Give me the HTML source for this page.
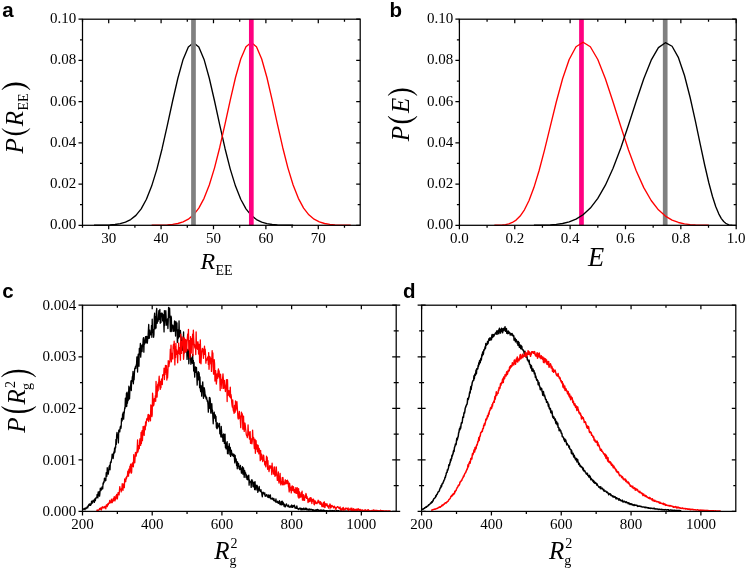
<!DOCTYPE html>
<html><head><meta charset="utf-8"><style>
html,body{margin:0;padding:0;background:#fff;}
body{width:747px;height:570px;overflow:hidden;}
svg{display:block;will-change:transform;}
</style></head><body>
<svg width="747" height="570" viewBox="0 0 747 570">
<rect width="747" height="570" fill="#fff"/>
<polyline points="94.03,225.27 99.27,225.22 104.51,225.12 109.75,224.91 114.99,224.48 120.23,223.66 125.46,222.16 130.70,219.58 135.94,215.35 141.18,208.81 146.42,199.26 151.66,186.11 156.90,169.09 162.14,148.46 167.38,125.20 172.62,101.01 177.86,78.23 183.10,59.44 188.34,47.03 193.58,42.70 198.82,47.03 204.06,59.44 209.30,78.23 214.54,101.01 219.78,125.20 225.02,148.46 230.26,169.09 235.50,186.11 240.74,199.26 245.98,208.81 251.22,215.35 256.46,219.58 261.70,222.16 266.93,223.66 272.17,224.48 277.41,224.91 282.65,225.12 287.89,225.22 293.13,225.27" fill="none" stroke="#000" stroke-width="1.35" stroke-linejoin="round" />
<polyline points="151.66,225.26 156.90,225.21 162.14,225.10 167.38,224.87 172.62,224.40 177.86,223.52 183.10,221.93 188.34,219.22 193.58,214.82 198.82,208.09 204.06,198.34 209.30,185.01 214.54,167.87 219.78,147.22 225.02,124.04 230.26,100.04 235.50,77.51 240.74,58.98 245.98,46.76 251.22,42.49 256.46,46.76 261.70,58.98 266.93,77.51 272.17,100.04 277.41,124.04 282.65,147.22 287.89,167.87 293.13,185.01 298.37,198.34 303.61,208.09 308.85,214.82 314.09,219.22 319.33,221.93 324.57,223.52 329.81,224.40 335.05,224.87 340.29,225.10 345.53,225.21 350.77,225.26" fill="none" stroke="#ff0000" stroke-width="1.35" stroke-linejoin="round" />
<rect x="191.13" y="19.20" width="4.7" height="206.10" fill="#808080"/>
<rect x="248.97" y="19.20" width="4.7" height="206.10" fill="#ff0080"/>
<path d="M108.70,225.30L108.70,229.30M108.70,19.20L108.70,23.20M161.09,225.30L161.09,229.30M161.09,19.20L161.09,23.20M213.49,225.30L213.49,229.30M213.49,19.20L213.49,23.20M265.89,225.30L265.89,229.30M265.89,19.20L265.89,23.20M318.28,225.30L318.28,229.30M318.28,19.20L318.28,23.20M82.50,225.30L82.50,227.80M82.50,19.20L82.50,21.70M134.90,225.30L134.90,227.80M134.90,19.20L134.90,21.70M187.29,225.30L187.29,227.80M187.29,19.20L187.29,21.70M239.69,225.30L239.69,227.80M239.69,19.20L239.69,21.70M292.08,225.30L292.08,227.80M292.08,19.20L292.08,21.70M344.48,225.30L344.48,227.80M344.48,19.20L344.48,21.70M78.50,225.30L82.50,225.30M356.20,225.30L360.20,225.30M78.50,184.08L82.50,184.08M356.20,184.08L360.20,184.08M78.50,142.86L82.50,142.86M356.20,142.86L360.20,142.86M78.50,101.64L82.50,101.64M356.20,101.64L360.20,101.64M78.50,60.42L82.50,60.42M356.20,60.42L360.20,60.42M78.50,19.20L82.50,19.20M356.20,19.20L360.20,19.20M80.00,204.69L82.50,204.69M357.70,204.69L360.20,204.69M80.00,163.47L82.50,163.47M357.70,163.47L360.20,163.47M80.00,122.25L82.50,122.25M357.70,122.25L360.20,122.25M80.00,81.03L82.50,81.03M357.70,81.03L360.20,81.03M80.00,39.81L82.50,39.81M357.70,39.81L360.20,39.81" stroke="#000" stroke-width="1.25" fill="none"/>
<rect x="82.50" y="19.20" width="277.70" height="206.10" fill="none" stroke="#000" stroke-width="1.25"/>
<rect x="579.12" y="19.20" width="4.7" height="206.10" fill="#ff0080"/>
<rect x="662.85" y="19.20" width="4.7" height="206.10" fill="#808080"/>
<polyline points="708.81,225.28 704.73,225.24 700.27,225.15 695.40,224.97 690.14,224.59 684.49,223.85 678.46,222.48 672.09,220.07 665.39,216.07 658.41,209.81 651.19,200.53 643.77,187.61 636.19,170.72 628.51,150.06 620.79,126.58 613.06,102.01 605.38,78.75 597.80,59.49 590.35,46.75 583.08,42.28 576.01,46.75 569.17,59.49 562.59,78.75 556.28,102.01 550.24,126.58 544.50,150.06 539.05,170.72 533.90,187.61 529.03,200.53 524.45,209.81 520.14,216.07 516.10,220.07 512.32,222.48 508.78,223.85 505.48,224.59 502.40,224.97 499.52,225.15 496.84,225.24 494.35,225.28" fill="none" stroke="#ff0000" stroke-width="1.35" stroke-linejoin="round" />
<polyline points="732.29,225.26 731.37,225.19 730.27,225.06 728.97,224.79 727.46,224.26 725.71,223.27 723.69,221.52 721.38,218.56 718.76,213.85 715.80,206.72 712.49,196.53 708.81,182.75 704.73,165.25 700.27,144.38 695.40,121.22 690.14,97.50 684.49,75.50 678.46,57.68 672.09,46.25 665.39,42.72 658.41,47.58 651.19,60.15 643.77,78.80 636.19,101.24 628.51,125.02 620.79,147.91 613.06,168.29 605.38,185.21 597.80,198.39 590.35,208.05 583.08,214.75 576.01,219.14 569.17,221.86 562.59,223.47 556.28,224.37 550.24,224.85 544.50,225.09 539.05,225.21 533.90,225.26" fill="none" stroke="#000" stroke-width="1.35" stroke-linejoin="round" />
<path d="M459.40,225.30L459.40,229.30M459.40,19.20L459.40,23.20M514.76,225.30L514.76,229.30M514.76,19.20L514.76,23.20M570.12,225.30L570.12,229.30M570.12,19.20L570.12,23.20M625.48,225.30L625.48,229.30M625.48,19.20L625.48,23.20M680.84,225.30L680.84,229.30M680.84,19.20L680.84,23.20M736.20,225.30L736.20,229.30M736.20,19.20L736.20,23.20M487.08,225.30L487.08,227.80M487.08,19.20L487.08,21.70M542.44,225.30L542.44,227.80M542.44,19.20L542.44,21.70M597.80,225.30L597.80,227.80M597.80,19.20L597.80,21.70M653.16,225.30L653.16,227.80M653.16,19.20L653.16,21.70M708.52,225.30L708.52,227.80M708.52,19.20L708.52,21.70M455.40,225.30L459.40,225.30M732.20,225.30L736.20,225.30M455.40,184.08L459.40,184.08M732.20,184.08L736.20,184.08M455.40,142.86L459.40,142.86M732.20,142.86L736.20,142.86M455.40,101.64L459.40,101.64M732.20,101.64L736.20,101.64M455.40,60.42L459.40,60.42M732.20,60.42L736.20,60.42M455.40,19.20L459.40,19.20M732.20,19.20L736.20,19.20M456.90,204.69L459.40,204.69M733.70,204.69L736.20,204.69M456.90,163.47L459.40,163.47M733.70,163.47L736.20,163.47M456.90,122.25L459.40,122.25M733.70,122.25L736.20,122.25M456.90,81.03L459.40,81.03M733.70,81.03L736.20,81.03M456.90,39.81L459.40,39.81M733.70,39.81L736.20,39.81" stroke="#000" stroke-width="1.25" fill="none"/>
<rect x="459.40" y="19.20" width="276.80" height="206.10" fill="none" stroke="#000" stroke-width="1.25"/>
<polyline points="82.50,509.77 82.85,509.84 83.20,509.36 83.55,508.81 83.89,508.96 84.24,508.42 84.59,509.02 84.94,509.82 85.29,508.26 85.64,507.97 85.99,508.69 86.33,508.40 86.68,507.99 87.03,506.84 87.38,507.43 87.73,507.90 88.08,505.67 88.43,506.28 88.77,504.51 89.12,504.83 89.47,503.91 89.82,505.37 90.17,503.87 90.52,505.34 90.87,504.88 91.21,504.12 91.56,501.19 91.91,502.93 92.26,503.20 92.61,503.03 92.96,500.33 93.31,501.37 93.65,500.19 94.00,499.97 94.35,502.36 94.70,499.00 95.05,499.73 95.40,500.73 95.75,497.80 96.09,498.05 96.44,497.89 96.79,497.26 97.14,494.36 97.49,496.13 97.84,497.94 98.19,491.82 98.53,495.82 98.88,493.74 99.23,491.55 99.58,496.08 99.93,493.07 100.28,488.22 100.62,490.21 100.97,490.58 101.32,488.14 101.67,489.35 102.02,486.86 102.37,487.78 102.72,488.84 103.06,482.93 103.41,484.23 103.76,481.71 104.11,482.32 104.46,478.04 104.81,478.68 105.16,478.76 105.50,480.77 105.85,480.53 106.20,472.76 106.55,473.22 106.90,476.31 107.25,467.70 107.60,471.09 107.94,471.12 108.29,474.14 108.64,471.40 108.99,467.22 109.34,465.99 109.69,465.26 110.04,469.81 110.38,462.43 110.73,461.68 111.08,462.70 111.43,459.96 111.78,458.53 112.13,454.19 112.48,456.78 112.82,454.06 113.17,458.53 113.52,455.52 113.87,451.86 114.22,453.14 114.57,448.19 114.92,452.11 115.26,446.89 115.61,447.85 115.96,439.39 116.31,444.39 116.66,435.14 117.01,432.39 117.36,437.91 117.70,434.17 118.05,437.13 118.40,442.92 118.75,430.35 119.10,429.84 119.45,431.96 119.80,431.83 120.14,427.62 120.49,426.13 120.84,428.70 121.19,426.55 121.54,418.34 121.89,421.17 122.24,420.31 122.58,414.01 122.93,418.57 123.28,412.07 123.63,419.11 123.98,414.14 124.33,412.27 124.68,407.69 125.02,408.53 125.37,398.16 125.72,400.89 126.07,406.71 126.42,393.20 126.77,406.35 127.12,392.21 127.46,403.22 127.81,393.87 128.16,400.65 128.51,396.04 128.86,386.21 129.21,399.06 129.56,398.75 129.90,389.66 130.25,387.24 130.60,386.50 130.95,380.90 131.30,390.51 131.65,380.52 131.99,381.83 132.34,376.56 132.69,376.15 133.04,371.33 133.39,383.82 133.74,374.88 134.09,379.78 134.43,373.31 134.78,368.16 135.13,368.96 135.48,366.44 135.83,368.41 136.18,365.06 136.53,364.30 136.87,357.00 137.22,359.07 137.57,372.00 137.92,357.53 138.27,354.19 138.62,361.11 138.97,366.24 139.31,348.50 139.66,354.68 140.01,351.13 140.36,343.43 140.71,357.11 141.06,351.61 141.41,351.17 141.75,345.26 142.10,351.49 142.45,344.57 142.80,346.00 143.15,339.24 143.50,337.65 143.85,352.21 144.19,340.13 144.54,344.12 144.89,341.27 145.24,337.93 145.59,336.69 145.94,342.88 146.29,336.34 146.63,336.48 146.98,336.79 147.33,343.22 147.68,339.41 148.03,336.85 148.38,330.23 148.73,324.42 149.07,338.37 149.42,337.84 149.77,330.24 150.12,333.93 150.47,334.85 150.82,334.59 151.17,334.60 151.51,325.31 151.86,337.31 152.21,319.22 152.56,332.15 152.91,329.33 153.26,331.30 153.61,337.29 153.95,334.34 154.30,317.07 154.65,313.17 155.00,328.89 155.35,316.74 155.70,322.85 156.05,328.01 156.39,311.68 156.74,308.37 157.09,323.39 157.44,321.74 157.79,319.62 158.14,321.23 158.49,315.19 158.83,310.76 159.18,319.31 159.53,313.93 159.88,309.42 160.23,323.24 160.58,319.44 160.93,322.39 161.27,313.24 161.62,315.33 161.97,313.06 162.32,313.76 162.67,320.78 163.02,314.42 163.36,321.84 163.71,321.76 164.06,331.95 164.41,310.61 164.76,325.51 165.11,319.25 165.46,319.85 165.80,310.65 166.15,317.21 166.50,325.17 166.85,319.98 167.20,321.22 167.55,319.01 167.90,328.58 168.24,321.19 168.59,307.34 168.94,317.35 169.29,309.37 169.64,308.17 169.99,319.24 170.34,331.55 170.68,323.59 171.03,316.08 171.38,317.92 171.73,331.57 172.08,325.70 172.43,325.38 172.78,325.13 173.12,326.12 173.47,331.44 173.82,330.25 174.17,328.55 174.52,321.00 174.87,331.34 175.22,324.23 175.56,336.00 175.91,321.52 176.26,329.21 176.61,330.55 176.96,322.79 177.31,342.51 177.66,341.40 178.00,329.89 178.35,338.20 178.70,336.32 179.05,320.81 179.40,336.70 179.75,335.37 180.10,336.89 180.44,330.33 180.79,335.98 181.14,337.19 181.49,346.27 181.84,341.67 182.19,340.25 182.54,350.33 182.88,338.26 183.23,339.97 183.58,331.99 183.93,353.29 184.28,350.32 184.63,350.75 184.98,349.97 185.32,347.34 185.67,348.71 186.02,346.66 186.37,347.71 186.72,350.01 187.07,359.46 187.42,354.53 187.76,351.67 188.11,349.38 188.46,349.85 188.81,363.81 189.16,358.16 189.51,356.39 189.86,354.79 190.20,351.17 190.55,358.06 190.90,364.33 191.25,357.83 191.60,359.62 191.95,360.50 192.29,363.24 192.64,354.36 192.99,362.96 193.34,360.30 193.69,371.01 194.04,362.51 194.39,370.97 194.73,377.13 195.08,367.69 195.43,366.96 195.78,372.25 196.13,372.04 196.48,367.44 196.83,376.34 197.17,385.10 197.52,374.15 197.87,375.33 198.22,371.64 198.57,379.93 198.92,372.36 199.27,374.02 199.61,387.72 199.96,376.91 200.31,388.39 200.66,391.61 201.01,385.78 201.36,388.22 201.71,396.17 202.05,386.05 202.40,384.88 202.75,381.83 203.10,389.96 203.45,398.26 203.80,396.45 204.15,387.59 204.49,388.94 204.84,391.62 205.19,396.55 205.54,394.92 205.89,397.91 206.24,399.20 206.59,397.11 206.93,399.28 207.28,401.38 207.63,400.82 207.98,404.58 208.33,412.12 208.68,406.74 209.03,405.00 209.37,397.46 209.72,408.32 210.07,398.00 210.42,401.47 210.77,413.10 211.12,413.24 211.47,410.05 211.81,403.59 212.16,410.73 212.51,410.15 212.86,417.10 213.21,423.75 213.56,416.83 213.91,413.11 214.25,412.18 214.60,418.08 214.95,418.36 215.30,414.82 215.65,421.32 216.00,416.51 216.35,427.36 216.69,427.93 217.04,428.81 217.39,422.79 217.74,427.90 218.09,425.89 218.44,425.58 218.79,426.59 219.13,423.29 219.48,423.49 219.83,433.75 220.18,430.36 220.53,432.84 220.88,436.88 221.23,426.29 221.57,431.00 221.92,435.70 222.27,437.34 222.62,434.95 222.97,441.39 223.32,438.81 223.66,433.85 224.01,435.73 224.36,443.35 224.71,442.71 225.06,434.16 225.41,447.57 225.76,445.35 226.10,448.92 226.45,442.96 226.80,444.00 227.15,441.54 227.50,453.69 227.85,446.53 228.20,453.81 228.54,446.14 228.89,449.82 229.24,443.73 229.59,449.14 229.94,454.78 230.29,447.32 230.64,456.36 230.98,454.35 231.33,450.06 231.68,452.64 232.03,453.42 232.38,455.49 232.73,454.42 233.08,454.04 233.42,456.46 233.77,454.60 234.12,454.33 234.47,459.15 234.82,462.88 235.17,455.38 235.52,461.09 235.86,459.51 236.21,459.02 236.56,465.59 236.91,461.68 237.26,468.77 237.61,461.98 237.96,466.27 238.30,464.86 238.65,463.74 239.00,468.50 239.35,466.71 239.70,469.59 240.05,468.10 240.40,465.43 240.74,468.97 241.09,469.94 241.44,473.18 241.79,468.08 242.14,471.17 242.49,466.70 242.84,474.18 243.18,469.60 243.53,468.00 243.88,473.54 244.23,477.34 244.58,470.30 244.93,472.03 245.28,473.47 245.62,472.86 245.97,477.51 246.32,474.68 246.67,475.37 247.02,479.37 247.37,476.17 247.72,479.80 248.06,476.47 248.41,476.27 248.76,475.06 249.11,485.17 249.46,479.88 249.81,481.74 250.16,481.43 250.50,482.31 250.85,482.42 251.20,487.46 251.55,480.47 251.90,479.58 252.25,481.32 252.60,480.92 252.94,486.37 253.29,486.89 253.64,482.97 253.99,482.31 254.34,485.14 254.69,489.59 255.03,481.53 255.38,488.23 255.73,484.87 256.08,490.05 256.43,485.56 256.78,487.68 257.13,485.28 257.47,486.79 257.82,492.34 258.17,491.39 258.52,489.02 258.87,488.32 259.22,486.44 259.57,489.96 259.91,491.02 260.26,491.20 260.61,491.47 260.96,489.63 261.31,492.09 261.66,492.42 262.01,495.39 262.35,496.80 262.70,493.04 263.05,492.06 263.40,493.71 263.75,492.91 264.10,492.91 264.45,494.49 264.79,492.85 265.14,496.24 265.49,495.14 265.84,496.04 266.19,495.47 266.54,494.70 266.89,494.54 267.23,496.07 267.58,495.74 267.93,497.36 268.28,497.15 268.63,494.98 268.98,497.71 269.33,495.48 269.67,496.95 270.02,497.71 270.37,494.91 270.72,498.77 271.07,499.06 271.42,498.75 271.77,498.50 272.11,498.78 272.46,498.00 272.81,499.33 273.16,499.07 273.51,500.27 273.86,498.42 274.21,500.84 274.55,500.87 274.90,500.60 275.25,500.32 275.60,501.98 275.95,498.83 276.30,502.16 276.65,501.99 276.99,502.20 277.34,502.50 277.69,501.16 278.04,501.88 278.39,503.29 278.74,503.14 279.09,502.97 279.43,500.75 279.78,503.70 280.13,504.69 280.48,504.60 280.83,503.69 281.18,501.46 281.53,504.87 281.87,503.58 282.22,501.07 282.57,504.50 282.92,502.26 283.27,502.64 283.62,503.59 283.97,506.07 284.31,504.16 284.66,505.06 285.01,506.94 285.36,506.85 285.71,504.94 286.06,504.89 286.40,503.82 286.75,504.58 287.10,505.97 287.45,506.04 287.80,505.81 288.15,506.89 288.50,505.03 288.84,505.92 289.19,506.86 289.54,506.79 289.89,507.40 290.24,506.76 290.59,506.11 290.94,506.90 291.28,505.58 291.63,505.02 291.98,507.36 292.33,506.80 292.68,507.24 293.03,505.35 293.38,506.74 293.72,506.59 294.07,506.42 294.42,505.23 294.77,507.08 295.12,508.30 295.47,507.89 295.82,507.05 296.16,507.66 296.51,508.42 296.86,505.85 297.21,507.76 297.56,508.41 297.91,508.59 298.26,509.52 298.60,509.09 298.95,508.44 299.30,508.49 299.65,508.95 300.00,507.91 300.35,508.38 300.70,509.20 301.04,510.03 301.39,508.45 301.74,508.59 302.09,508.83 302.44,509.76 302.79,508.76 303.14,509.93 303.48,508.16 303.83,508.79 304.18,508.83 304.53,509.59 304.88,509.81 305.23,508.03 305.58,508.51 305.92,509.43 306.27,508.78 306.62,508.24 306.97,510.02 307.32,509.69 307.67,509.72 308.02,509.12 308.36,510.14 308.71,509.36 309.06,510.25 309.41,509.01 309.76,509.08 310.11,509.78 310.46,509.26 310.80,510.13 311.15,509.91 311.50,509.24 311.85,509.86 312.20,509.64 312.55,510.41 312.90,509.55 313.24,509.69 313.59,510.65 313.94,511.05 314.29,511.07 314.64,510.09 314.99,510.20 315.34,510.92 315.68,510.06 316.03,509.65 316.38,510.24 316.73,510.44 317.08,509.81 317.43,509.43 317.77,509.56 318.12,510.63 318.47,509.95 318.82,510.28 319.17,510.47 319.52,510.68 319.87,510.25 320.21,510.66 320.56,510.04 320.91,510.30 321.26,510.03 321.61,511.01 321.96,510.51 322.31,510.22 322.65,510.41 323.00,510.48 323.35,510.89 323.70,509.95 324.05,510.20 324.40,510.49 324.75,511.40 325.09,511.06 325.44,510.65 325.79,510.98 326.14,511.40 326.49,510.64 326.84,510.61 327.19,511.22 327.53,510.96 327.88,511.03 328.23,510.62 328.58,511.40 328.93,511.40 329.28,511.04 329.63,511.09 329.97,510.17 330.32,511.09 330.67,510.82 331.02,511.04 331.37,511.13 331.72,510.81 332.07,510.38 332.41,511.06 332.76,510.72 333.11,510.86 333.46,510.78 333.81,510.87 334.16,510.32 334.51,511.36 334.85,511.08 335.20,511.34 335.55,511.40 335.90,511.04 336.25,510.53 336.60,510.80 336.95,510.72 337.29,510.93 337.64,511.09 337.99,510.54 338.34,511.17 338.69,510.70 339.04,511.17 339.39,511.08 339.73,511.03 340.08,511.10 340.43,510.99 340.78,510.98 341.13,510.73 341.48,511.14 341.83,511.40 342.17,511.40 342.52,511.40 342.87,511.33 343.22,511.02 343.57,511.40 343.92,511.17 344.27,511.17 344.61,511.13 344.96,511.22 345.31,511.11 345.66,511.19 346.01,510.99 346.36,511.14 346.71,511.40 347.05,511.21 347.40,511.18 347.75,511.33 348.10,511.37 348.45,511.03 348.80,511.20 349.14,511.40 349.49,511.30 349.84,511.27 350.19,511.40 350.54,511.14 350.89,511.28 351.24,511.18 351.58,511.40 351.93,510.95 352.28,511.16 352.63,511.19 352.98,511.39 353.33,511.38 353.68,511.40 354.02,511.04 354.37,511.40 354.72,511.25 355.07,511.20 355.42,511.38 355.77,511.17 356.12,511.00 356.46,511.25 356.81,511.10 357.16,511.22 357.51,511.36 357.86,511.36 358.21,511.40 358.56,511.29 358.90,511.12 359.25,511.23 359.60,511.21 359.95,511.17 360.30,511.38 360.65,511.25 361.00,511.09 361.34,511.40" fill="none" stroke="#000" stroke-width="1.3" stroke-linejoin="round" />
<polyline points="96.44,510.15 96.79,510.36 97.14,510.13 97.49,510.39 97.84,509.92 98.19,510.65 98.53,510.01 98.88,509.90 99.23,509.82 99.58,508.29 99.93,509.16 100.28,508.96 100.62,509.22 100.97,507.76 101.32,510.22 101.67,508.75 102.02,507.39 102.37,506.74 102.72,507.93 103.06,507.95 103.41,507.14 103.76,507.80 104.11,506.84 104.46,507.94 104.81,506.33 105.16,506.90 105.50,507.88 105.85,508.79 106.20,505.06 106.55,505.49 106.90,504.76 107.25,506.61 107.60,503.80 107.94,504.42 108.29,504.77 108.64,503.14 108.99,502.86 109.34,503.25 109.69,500.49 110.04,501.12 110.38,502.38 110.73,502.94 111.08,502.06 111.43,499.08 111.78,500.89 112.13,502.68 112.48,501.91 112.82,500.41 113.17,498.55 113.52,500.93 113.87,498.27 114.22,496.70 114.57,496.95 114.92,500.94 115.26,498.06 115.61,499.53 115.96,495.70 116.31,498.20 116.66,494.44 117.01,494.89 117.36,498.93 117.70,495.93 118.05,492.53 118.40,492.94 118.75,493.35 119.10,494.92 119.45,490.28 119.80,486.60 120.14,489.59 120.49,489.73 120.84,489.36 121.19,491.88 121.54,488.66 121.89,489.36 122.24,483.56 122.58,488.26 122.93,490.48 123.28,486.70 123.63,484.56 123.98,483.58 124.33,487.64 124.68,478.97 125.02,480.65 125.37,481.63 125.72,481.77 126.07,477.38 126.42,478.93 126.77,476.30 127.12,476.79 127.46,475.18 127.81,471.05 128.16,473.92 128.51,476.10 128.86,469.06 129.21,470.67 129.56,472.95 129.90,466.05 130.25,469.57 130.60,464.27 130.95,471.26 131.30,473.20 131.65,472.37 131.99,463.67 132.34,466.34 132.69,463.11 133.04,462.11 133.39,466.76 133.74,454.72 134.09,463.05 134.43,457.76 134.78,462.63 135.13,456.78 135.48,452.32 135.83,455.22 136.18,456.15 136.53,452.26 136.87,453.17 137.22,447.91 137.57,439.99 137.92,451.99 138.27,450.14 138.62,446.73 138.97,445.36 139.31,448.65 139.66,440.96 140.01,438.78 140.36,440.08 140.71,445.35 141.06,432.46 141.41,443.36 141.75,433.78 142.10,430.53 142.45,440.66 142.80,433.16 143.15,426.31 143.50,429.77 143.85,434.99 144.19,435.25 144.54,426.22 144.89,429.30 145.24,429.79 145.59,421.91 145.94,425.89 146.29,422.87 146.63,419.23 146.98,418.38 147.33,420.20 147.68,418.96 148.03,414.78 148.38,414.44 148.73,421.54 149.07,415.73 149.42,418.28 149.77,418.97 150.12,414.64 150.47,420.75 150.82,404.84 151.17,412.78 151.51,405.53 151.86,416.58 152.21,414.74 152.56,393.25 152.91,397.74 153.26,405.95 153.61,405.67 153.95,404.38 154.30,398.77 154.65,400.80 155.00,400.97 155.35,395.75 155.70,401.23 156.05,381.34 156.39,397.02 156.74,386.21 157.09,397.06 157.44,389.06 157.79,384.16 158.14,390.79 158.49,382.12 158.83,381.17 159.18,376.25 159.53,384.71 159.88,387.01 160.23,389.36 160.58,381.32 160.93,387.80 161.27,380.56 161.62,379.01 161.97,382.32 162.32,384.52 162.67,374.91 163.02,374.70 163.36,374.40 163.71,375.13 164.06,368.08 164.41,379.57 164.76,369.67 165.11,374.43 165.46,365.39 165.80,372.26 166.15,371.74 166.50,365.75 166.85,380.10 167.20,369.46 167.55,377.94 167.90,371.92 168.24,360.62 168.59,361.78 168.94,366.51 169.29,363.39 169.64,362.67 169.99,359.82 170.34,349.08 170.68,358.99 171.03,345.21 171.38,361.79 171.73,353.87 172.08,353.37 172.43,356.14 172.78,358.91 173.12,346.89 173.47,344.21 173.82,348.31 174.17,341.19 174.52,347.98 174.87,364.89 175.22,346.41 175.56,357.60 175.91,343.36 176.26,354.34 176.61,349.69 176.96,351.07 177.31,354.99 177.66,362.78 178.00,351.68 178.35,350.84 178.70,342.93 179.05,353.33 179.40,347.29 179.75,354.43 180.10,348.08 180.44,360.15 180.79,334.07 181.14,345.50 181.49,353.43 181.84,344.63 182.19,341.33 182.54,344.77 182.88,336.81 183.23,347.05 183.58,359.29 183.93,353.86 184.28,337.98 184.63,339.47 184.98,342.61 185.32,352.33 185.67,339.46 186.02,340.27 186.37,351.20 186.72,350.98 187.07,342.25 187.42,336.98 187.76,333.92 188.11,339.84 188.46,329.31 188.81,349.94 189.16,340.28 189.51,348.07 189.86,357.80 190.20,352.96 190.55,336.74 190.90,350.93 191.25,353.01 191.60,339.77 191.95,338.41 192.29,344.40 192.64,334.08 192.99,355.66 193.34,330.15 193.69,337.92 194.04,343.91 194.39,344.36 194.73,347.27 195.08,348.18 195.43,344.98 195.78,354.58 196.13,331.99 196.48,347.08 196.83,342.34 197.17,348.46 197.52,349.31 197.87,341.71 198.22,343.85 198.57,354.04 198.92,351.25 199.27,344.42 199.61,362.52 199.96,362.81 200.31,339.96 200.66,352.42 201.01,363.74 201.36,356.40 201.71,352.87 202.05,350.29 202.40,348.37 202.75,350.99 203.10,349.06 203.45,358.28 203.80,350.88 204.15,350.99 204.49,346.23 204.84,354.47 205.19,349.17 205.54,354.44 205.89,363.13 206.24,359.00 206.59,360.38 206.93,359.83 207.28,358.30 207.63,357.51 207.98,356.78 208.33,364.40 208.68,352.57 209.03,369.24 209.37,361.03 209.72,356.33 210.07,358.57 210.42,357.85 210.77,363.91 211.12,358.65 211.47,371.43 211.81,359.32 212.16,350.56 212.51,360.76 212.86,352.97 213.21,366.40 213.56,374.11 213.91,371.99 214.25,359.69 214.60,364.00 214.95,381.00 215.30,372.15 215.65,370.72 216.00,378.06 216.35,384.05 216.69,380.77 217.04,373.98 217.39,375.95 217.74,378.23 218.09,371.05 218.44,368.86 218.79,376.50 219.13,370.84 219.48,377.04 219.83,378.66 220.18,390.56 220.53,374.03 220.88,379.22 221.23,379.60 221.57,383.97 221.92,388.37 222.27,379.54 222.62,378.18 222.97,373.83 223.32,378.87 223.66,388.46 224.01,386.13 224.36,380.36 224.71,384.93 225.06,388.04 225.41,391.55 225.76,385.63 226.10,388.37 226.45,379.70 226.80,384.37 227.15,401.48 227.50,379.63 227.85,391.25 228.20,395.21 228.54,392.41 228.89,390.56 229.24,395.61 229.59,396.62 229.94,396.86 230.29,387.18 230.64,397.86 230.98,394.48 231.33,396.94 231.68,402.05 232.03,405.09 232.38,407.21 232.73,400.01 233.08,408.71 233.42,410.78 233.77,411.24 234.12,413.31 234.47,405.44 234.82,405.97 235.17,412.17 235.52,400.78 235.86,410.13 236.21,406.77 236.56,408.34 236.91,401.57 237.26,406.89 237.61,412.28 237.96,417.85 238.30,419.05 238.65,414.00 239.00,414.10 239.35,411.38 239.70,418.58 240.05,415.82 240.40,420.98 240.74,427.62 241.09,418.97 241.44,412.04 241.79,416.02 242.14,413.63 242.49,415.66 242.84,429.14 243.18,424.28 243.53,416.07 243.88,427.74 244.23,431.44 244.58,423.94 244.93,423.02 245.28,425.37 245.62,429.11 245.97,431.50 246.32,434.80 246.67,435.57 247.02,436.05 247.37,437.53 247.72,434.74 248.06,424.78 248.41,432.17 248.76,434.93 249.11,432.23 249.46,439.01 249.81,433.60 250.16,431.56 250.50,443.31 250.85,440.26 251.20,438.78 251.55,442.66 251.90,443.88 252.25,441.15 252.60,430.12 252.94,437.71 253.29,439.31 253.64,437.53 253.99,443.46 254.34,448.49 254.69,441.58 255.03,439.28 255.38,453.30 255.73,443.49 256.08,440.65 256.43,447.66 256.78,449.04 257.13,444.71 257.47,451.73 257.82,446.80 258.17,445.50 258.52,450.76 258.87,453.81 259.22,448.43 259.57,453.03 259.91,451.80 260.26,460.62 260.61,450.33 260.96,459.49 261.31,454.11 261.66,454.34 262.01,458.31 262.35,459.51 262.70,461.51 263.05,458.25 263.40,455.06 263.75,455.83 264.10,460.47 264.45,461.25 264.79,464.93 265.14,461.59 265.49,464.56 265.84,466.79 266.19,462.07 266.54,456.25 266.89,457.93 267.23,457.45 267.58,469.33 267.93,460.66 268.28,468.88 268.63,466.93 268.98,471.54 269.33,469.36 269.67,465.76 270.02,465.87 270.37,467.35 270.72,468.12 271.07,466.03 271.42,468.26 271.77,474.50 272.11,463.25 272.46,470.58 272.81,466.94 273.16,471.18 273.51,473.84 273.86,471.17 274.21,474.42 274.55,466.80 274.90,476.34 275.25,470.98 275.60,475.49 275.95,474.42 276.30,466.94 276.65,472.12 276.99,475.72 277.34,480.44 277.69,476.70 278.04,476.98 278.39,472.01 278.74,481.46 279.09,483.00 279.43,477.74 279.78,477.32 280.13,473.33 280.48,481.47 280.83,484.95 281.18,481.65 281.53,483.65 281.87,481.79 282.22,477.53 282.57,484.84 282.92,477.50 283.27,480.89 283.62,482.67 283.97,484.77 284.31,483.72 284.66,483.96 285.01,480.96 285.36,479.78 285.71,483.97 286.06,482.10 286.40,480.74 286.75,481.19 287.10,483.67 287.45,480.21 287.80,481.93 288.15,481.46 288.50,486.73 288.84,487.63 289.19,491.92 289.54,483.10 289.89,485.58 290.24,490.08 290.59,487.38 290.94,487.37 291.28,492.93 291.63,487.90 291.98,486.07 292.33,485.95 292.68,490.42 293.03,490.60 293.38,486.65 293.72,487.89 294.07,491.92 294.42,492.27 294.77,489.53 295.12,492.85 295.47,492.97 295.82,487.55 296.16,491.32 296.51,493.29 296.86,491.19 297.21,487.76 297.56,492.34 297.91,494.96 298.26,497.08 298.60,488.67 298.95,498.20 299.30,491.57 299.65,496.47 300.00,497.29 300.35,496.93 300.70,495.29 301.04,492.63 301.39,496.74 301.74,494.04 302.09,491.06 302.44,500.02 302.79,497.67 303.14,500.19 303.48,494.66 303.83,499.80 304.18,500.22 304.53,500.31 304.88,497.27 305.23,495.06 305.58,497.32 305.92,493.46 306.27,494.65 306.62,498.38 306.97,496.43 307.32,498.22 307.67,498.50 308.02,502.52 308.36,501.52 308.71,499.12 309.06,501.64 309.41,498.07 309.76,499.06 310.11,501.52 310.46,497.72 310.80,499.64 311.15,497.91 311.50,500.66 311.85,503.50 312.20,499.41 312.55,501.28 312.90,499.46 313.24,499.17 313.59,499.18 313.94,503.93 314.29,504.81 314.64,502.53 314.99,500.64 315.34,503.15 315.68,501.55 316.03,503.55 316.38,502.83 316.73,502.94 317.08,503.58 317.43,501.80 317.77,502.21 318.12,500.26 318.47,502.39 318.82,500.99 319.17,503.09 319.52,501.96 319.87,503.70 320.21,504.34 320.56,501.63 320.91,502.66 321.26,502.58 321.61,505.18 321.96,506.67 322.31,505.52 322.65,503.89 323.00,506.58 323.35,502.45 323.70,506.79 324.05,503.87 324.40,501.83 324.75,507.58 325.09,507.22 325.44,503.76 325.79,505.47 326.14,505.05 326.49,505.56 326.84,503.56 327.19,504.71 327.53,506.29 327.88,506.05 328.23,507.38 328.58,506.03 328.93,508.40 329.28,505.19 329.63,506.49 329.97,503.89 330.32,504.79 330.67,508.01 331.02,505.34 331.37,507.18 331.72,506.54 332.07,505.46 332.41,506.35 332.76,506.23 333.11,506.34 333.46,507.82 333.81,507.77 334.16,506.45 334.51,506.15 334.85,507.54 335.20,507.18 335.55,508.47 335.90,509.47 336.25,508.38 336.60,507.50 336.95,507.41 337.29,506.75 337.64,506.77 337.99,506.73 338.34,507.42 338.69,507.44 339.04,508.68 339.39,507.59 339.73,507.84 340.08,506.89 340.43,509.75 340.78,508.68 341.13,509.97 341.48,509.05 341.83,509.75 342.17,508.15 342.52,509.11 342.87,510.24 343.22,507.40 343.57,509.65 343.92,510.15 344.27,509.04 344.61,509.39 344.96,509.88 345.31,508.20 345.66,509.19 346.01,508.11 346.36,508.32 346.71,508.42 347.05,508.87 347.40,509.16 347.75,509.45 348.10,507.92 348.45,510.69 348.80,510.14 349.14,509.81 349.49,508.96 349.84,509.21 350.19,509.76 350.54,509.68 350.89,508.06 351.24,510.00 351.58,510.89 351.93,508.06 352.28,510.27 352.63,509.83 352.98,509.49 353.33,510.63 353.68,508.76 354.02,509.79 354.37,510.76 354.72,509.58 355.07,509.45 355.42,509.86 355.77,509.49 356.12,510.91 356.46,509.23 356.81,510.48 357.16,509.06 357.51,510.39 357.86,509.89 358.21,508.56 358.56,510.00 358.90,509.33 359.25,509.77 359.60,511.06 359.95,509.39 360.30,509.45 360.65,511.04 361.00,510.24 361.34,511.13 361.69,510.40 362.04,509.69 362.39,510.21 362.74,511.00 363.09,510.84 363.44,510.30 363.78,510.35 364.13,510.28 364.48,510.03 364.83,511.40 365.18,510.40 365.53,509.79 365.88,510.17 366.22,510.84 366.57,510.81 366.92,510.41 367.27,510.14 367.62,510.52 367.97,509.65 368.32,509.87 368.66,510.97 369.01,510.33 369.36,510.77 369.71,511.21 370.06,510.94 370.41,510.64 370.76,511.40 371.10,510.98 371.45,510.50 371.80,511.03 372.15,510.89 372.50,510.31 372.85,510.75 373.20,510.66 373.54,509.86 373.89,510.68 374.24,510.64 374.59,510.59 374.94,510.07 375.29,510.65 375.64,510.79 375.98,510.86 376.33,510.36 376.68,511.11 377.03,510.35 377.38,510.77 377.73,511.40 378.08,510.60 378.42,510.69 378.77,511.32 379.12,510.76 379.47,510.80 379.82,511.01 380.17,511.33 380.51,510.14 380.86,510.64 381.21,510.59 381.56,510.57 381.91,510.67 382.26,510.68 382.61,511.10 382.95,510.69 383.30,511.05 383.65,511.15 384.00,510.77 384.35,511.07 384.70,511.40 385.05,511.15 385.39,510.84 385.74,511.03 386.09,510.77 386.44,511.16 386.79,511.35 387.14,510.82 387.49,511.02 387.83,511.40 388.18,510.95 388.53,511.16 388.88,510.80 389.23,510.87 389.58,510.97 389.93,511.40 390.27,511.02 390.62,510.99" fill="none" stroke="#ff0000" stroke-width="1.3" stroke-linejoin="round" />
<path d="M82.50,511.40L82.50,515.40M82.50,305.20L82.50,309.20M152.21,511.40L152.21,515.40M152.21,305.20L152.21,309.20M221.92,511.40L221.92,515.40M221.92,305.20L221.92,309.20M291.63,511.40L291.63,515.40M291.63,305.20L291.63,309.20M361.34,511.40L361.34,515.40M361.34,305.20L361.34,309.20M117.36,511.40L117.36,513.90M117.36,305.20L117.36,307.70M187.07,511.40L187.07,513.90M187.07,305.20L187.07,307.70M256.78,511.40L256.78,513.90M256.78,305.20L256.78,307.70M326.49,511.40L326.49,513.90M326.49,305.20L326.49,307.70M78.50,511.40L82.50,511.40M392.20,511.40L396.20,511.40M396.20,511.40L400.20,511.40M78.50,459.85L82.50,459.85M392.20,459.85L396.20,459.85M396.20,459.85L400.20,459.85M78.50,408.30L82.50,408.30M392.20,408.30L396.20,408.30M396.20,408.30L400.20,408.30M78.50,356.75L82.50,356.75M392.20,356.75L396.20,356.75M396.20,356.75L400.20,356.75M78.50,305.20L82.50,305.20M392.20,305.20L396.20,305.20M396.20,305.20L400.20,305.20M80.00,485.62L82.50,485.62M393.70,485.62L396.20,485.62M396.20,485.62L398.70,485.62M80.00,434.07L82.50,434.07M393.70,434.07L396.20,434.07M396.20,434.07L398.70,434.07M80.00,382.52L82.50,382.52M393.70,382.52L396.20,382.52M396.20,382.52L398.70,382.52M80.00,330.98L82.50,330.98M393.70,330.98L396.20,330.98M396.20,330.98L398.70,330.98" stroke="#000" stroke-width="1.25" fill="none"/>
<rect x="82.50" y="305.20" width="313.70" height="206.20" fill="none" stroke="#000" stroke-width="1.25"/>
<polyline points="421.60,509.31 421.95,509.24 422.30,509.25 422.65,509.03 423.00,509.20 423.35,508.72 423.69,508.81 424.04,508.40 424.39,508.29 424.74,507.66 425.09,507.75 425.44,507.56 425.79,507.30 426.14,506.61 426.49,507.12 426.84,506.56 427.19,506.29 427.53,506.08 427.88,505.81 428.23,505.71 428.58,504.93 428.93,504.72 429.28,504.78 429.63,504.41 429.98,503.91 430.33,503.50 430.68,503.05 431.03,502.94 431.38,503.00 431.72,501.81 432.07,502.34 432.42,501.68 432.77,500.76 433.12,500.80 433.47,499.45 433.82,498.86 434.17,498.55 434.52,498.42 434.87,497.95 435.22,497.34 435.56,497.08 435.91,495.51 436.26,496.16 436.61,494.68 436.96,494.44 437.31,493.96 437.66,492.97 438.01,492.22 438.36,491.75 438.71,491.61 439.06,491.26 439.40,490.57 439.75,489.01 440.10,488.40 440.45,487.59 440.80,487.64 441.15,485.42 441.50,486.60 441.85,484.77 442.20,483.79 442.55,483.67 442.90,483.29 443.24,482.02 443.59,481.64 443.94,480.17 444.29,480.03 444.64,479.16 444.99,477.34 445.34,477.50 445.69,475.67 446.04,474.68 446.39,472.98 446.74,472.47 447.09,472.29 447.43,469.72 447.78,470.20 448.13,468.96 448.48,467.88 448.83,464.87 449.18,465.48 449.53,465.03 449.88,462.80 450.23,462.42 450.58,459.40 450.93,460.72 451.27,458.46 451.62,458.66 451.97,455.16 452.32,456.24 452.67,454.26 453.02,454.05 453.37,451.30 453.72,450.40 454.07,451.55 454.42,447.81 454.77,446.71 455.11,445.91 455.46,443.97 455.81,444.90 456.16,444.21 456.51,440.58 456.86,438.31 457.21,439.98 457.56,438.67 457.91,437.13 458.26,436.23 458.61,432.86 458.95,432.32 459.30,429.76 459.65,428.43 460.00,429.74 460.35,426.66 460.70,428.20 461.05,424.91 461.40,422.83 461.75,423.15 462.10,423.00 462.45,420.23 462.80,417.00 463.14,417.53 463.49,417.41 463.84,413.95 464.19,412.33 464.54,413.16 464.89,410.83 465.24,408.06 465.59,407.64 465.94,405.91 466.29,405.91 466.64,404.41 466.98,404.43 467.33,402.62 467.68,398.52 468.03,399.73 468.38,399.10 468.73,397.30 469.08,396.80 469.43,393.54 469.78,391.78 470.13,392.99 470.48,389.17 470.82,386.52 471.17,389.50 471.52,385.99 471.87,385.35 472.22,382.70 472.57,381.62 472.92,380.67 473.27,380.58 473.62,380.42 473.97,375.77 474.32,378.68 474.66,374.89 475.01,373.93 475.36,375.25 475.71,373.11 476.06,369.97 476.41,373.65 476.76,368.78 477.11,369.29 477.46,368.18 477.81,368.88 478.16,365.20 478.51,366.30 478.85,362.78 479.20,364.50 479.55,360.79 479.90,360.42 480.25,362.77 480.60,359.53 480.95,358.31 481.30,360.04 481.65,356.89 482.00,354.26 482.35,355.70 482.69,351.99 483.04,354.60 483.39,353.90 483.74,350.42 484.09,349.54 484.44,349.97 484.79,348.95 485.14,346.70 485.49,348.30 485.84,343.61 486.19,345.35 486.53,344.69 486.88,344.21 487.23,344.44 487.58,341.43 487.93,343.59 488.28,341.78 488.63,340.45 488.98,338.75 489.33,338.46 489.68,340.29 490.03,337.69 490.37,338.76 490.72,339.81 491.07,339.27 491.42,339.62 491.77,336.24 492.12,334.55 492.47,337.42 492.82,335.89 493.17,336.77 493.52,334.62 493.87,336.12 494.22,335.21 494.56,334.67 494.91,334.00 495.26,333.52 495.61,332.97 495.96,332.67 496.31,333.63 496.66,330.99 497.01,334.33 497.36,331.18 497.71,332.71 498.06,330.81 498.40,330.38 498.75,333.65 499.10,329.98 499.45,328.30 499.80,329.09 500.15,329.62 500.50,333.08 500.85,330.31 501.20,331.41 501.55,328.28 501.90,330.42 502.24,330.91 502.59,332.72 502.94,328.74 503.29,330.85 503.64,330.41 503.99,328.35 504.34,330.03 504.69,329.72 505.04,326.72 505.39,331.31 505.74,331.34 506.08,329.92 506.43,328.63 506.78,333.29 507.13,331.53 507.48,332.92 507.83,333.75 508.18,330.89 508.53,333.24 508.88,331.80 509.23,332.34 509.58,332.57 509.93,332.98 510.27,335.03 510.62,333.76 510.97,333.63 511.32,333.76 511.67,335.07 512.02,333.47 512.37,334.44 512.72,335.52 513.07,335.09 513.42,336.18 513.77,335.81 514.11,340.15 514.46,339.68 514.81,338.73 515.16,338.38 515.51,341.87 515.86,339.87 516.21,339.70 516.56,340.79 516.91,341.28 517.26,343.48 517.61,341.77 517.95,345.25 518.30,341.48 518.65,344.44 519.00,342.37 519.35,347.24 519.70,344.50 520.05,345.48 520.40,347.56 520.75,348.64 521.10,345.62 521.45,347.38 521.79,346.39 522.14,349.32 522.49,349.57 522.84,349.82 523.19,349.95 523.54,351.03 523.89,351.13 524.24,353.69 524.59,355.81 524.94,351.34 525.29,354.70 525.64,354.93 525.98,356.95 526.33,355.50 526.68,357.37 527.03,356.75 527.38,360.00 527.73,359.83 528.08,360.15 528.43,361.64 528.78,361.46 529.13,360.28 529.48,364.12 529.82,364.40 530.17,364.50 530.52,366.87 530.87,367.94 531.22,365.38 531.57,366.57 531.92,370.63 532.27,371.19 532.62,368.90 532.97,369.04 533.32,370.57 533.66,371.53 534.01,370.78 534.36,373.81 534.71,372.76 535.06,373.63 535.41,377.35 535.76,375.92 536.11,377.54 536.46,379.29 536.81,380.32 537.16,379.53 537.50,380.84 537.85,380.45 538.20,384.71 538.55,384.02 538.90,382.46 539.25,384.73 539.60,386.47 539.95,386.95 540.30,389.53 540.65,389.71 541.00,387.99 541.35,389.38 541.69,388.61 542.04,391.41 542.39,392.08 542.74,395.13 543.09,393.60 543.44,391.58 543.79,394.20 544.14,396.00 544.49,395.05 544.84,396.34 545.19,397.77 545.53,399.46 545.88,399.61 546.23,399.50 546.58,402.38 546.93,401.52 547.28,402.36 547.63,402.06 547.98,403.58 548.33,406.13 548.68,404.14 549.03,406.81 549.37,408.54 549.72,407.99 550.07,409.51 550.42,408.66 550.77,412.33 551.12,412.85 551.47,412.59 551.82,411.01 552.17,412.61 552.52,415.74 552.87,417.35 553.21,416.46 553.56,418.31 553.91,416.93 554.26,418.16 554.61,419.13 554.96,420.35 555.31,418.89 555.66,422.42 556.01,423.58 556.36,421.55 556.71,422.05 557.06,424.68 557.40,424.30 557.75,423.32 558.10,427.35 558.45,427.35 558.80,427.38 559.15,430.66 559.50,429.47 559.85,429.22 560.20,430.84 560.55,430.32 560.90,431.32 561.24,433.23 561.59,432.93 561.94,433.73 562.29,436.61 562.64,436.45 562.99,437.06 563.34,437.45 563.69,438.07 564.04,439.73 564.39,438.89 564.74,441.44 565.08,439.27 565.43,440.63 565.78,440.16 566.13,441.83 566.48,443.33 566.83,444.88 567.18,443.44 567.53,444.73 567.88,445.00 568.23,445.26 568.58,445.46 568.92,447.27 569.27,446.18 569.62,448.53 569.97,449.06 570.32,449.02 570.67,449.30 571.02,449.55 571.37,453.14 571.72,450.78 572.07,454.01 572.42,453.71 572.77,453.41 573.11,453.28 573.46,455.81 573.81,456.98 574.16,455.18 574.51,456.30 574.86,458.03 575.21,457.95 575.56,459.85 575.91,458.25 576.26,459.75 576.61,458.75 576.95,461.96 577.30,460.25 577.65,459.54 578.00,461.80 578.35,462.31 578.70,464.50 579.05,463.16 579.40,463.93 579.75,464.92 580.10,466.22 580.45,465.38 580.79,466.75 581.14,466.81 581.49,466.64 581.84,467.41 582.19,467.85 582.54,467.58 582.89,469.70 583.24,468.15 583.59,470.57 583.94,470.86 584.29,470.51 584.63,470.45 584.98,471.30 585.33,472.26 585.68,472.89 586.03,472.99 586.38,473.93 586.73,473.22 587.08,474.22 587.43,473.33 587.78,475.42 588.13,475.40 588.48,475.40 588.82,476.91 589.17,476.98 589.52,475.36 589.87,477.31 590.22,476.67 590.57,478.79 590.92,479.73 591.27,478.47 591.62,479.24 591.97,479.40 592.32,480.17 592.66,480.72 593.01,481.51 593.36,480.37 593.71,482.39 594.06,481.12 594.41,482.25 594.76,483.16 595.11,483.21 595.46,482.50 595.81,482.99 596.16,483.47 596.50,484.06 596.85,485.12 597.20,483.95 597.55,485.34 597.90,485.74 598.25,486.02 598.60,486.28 598.95,487.21 599.30,486.90 599.65,487.41 600.00,487.54 600.34,488.54 600.69,486.70 601.04,488.82 601.39,488.22 601.74,488.49 602.09,488.39 602.44,488.17 602.79,489.27 603.14,489.38 603.49,490.30 603.84,489.49 604.19,491.33 604.53,490.96 604.88,490.94 605.23,490.95 605.58,491.17 605.93,491.24 606.28,491.80 606.63,492.33 606.98,492.48 607.33,492.08 607.68,492.91 608.03,492.83 608.37,493.59 608.72,494.67 609.07,494.28 609.42,494.04 609.77,493.62 610.12,493.95 610.47,494.04 610.82,495.41 611.17,494.91 611.52,495.52 611.87,495.40 612.21,495.94 612.56,496.75 612.91,495.99 613.26,496.35 613.61,496.33 613.96,497.29 614.31,496.62 614.66,496.77 615.01,496.85 615.36,497.03 615.71,498.04 616.05,498.84 616.40,497.76 616.75,498.77 617.10,498.65 617.45,498.25 617.80,498.77 618.15,498.96 618.50,498.93 618.85,500.17 619.20,498.77 619.55,499.86 619.90,500.00 620.24,499.79 620.59,500.24 620.94,500.68 621.29,500.55 621.64,500.80 621.99,501.05 622.34,500.15 622.69,501.64 623.04,501.94 623.39,501.73 623.74,501.88 624.08,501.11 624.43,501.73 624.78,501.61 625.13,501.83 625.48,502.52 625.83,502.01 626.18,502.38 626.53,501.88 626.88,502.62 627.23,502.83 627.58,502.68 627.92,502.80 628.27,503.80 628.62,502.87 628.97,503.04 629.32,503.24 629.67,504.02 630.02,504.36 630.37,503.95 630.72,503.72 631.07,503.92 631.42,504.50 631.76,503.98 632.11,504.83 632.46,504.91 632.81,504.59 633.16,504.87 633.51,505.00 633.86,505.34 634.21,504.64 634.56,505.41 634.91,505.03 635.26,505.01 635.61,505.36 635.95,505.35 636.30,505.22 636.65,505.13 637.00,505.41 637.35,506.17 637.70,506.38 638.05,506.11 638.40,506.34 638.75,505.95 639.10,506.15 639.45,506.32 639.79,506.03 640.14,506.14 640.49,506.50 640.84,506.46 641.19,506.34 641.54,506.79 641.89,506.70 642.24,507.09 642.59,506.90 642.94,506.89 643.29,507.07 643.63,507.06 643.98,507.00 644.33,507.13 644.68,507.48 645.03,507.51 645.38,507.72 645.73,507.08 646.08,507.45 646.43,507.50 646.78,507.70 647.13,507.61 647.47,507.66 647.82,508.00 648.17,507.92 648.52,507.68 648.87,508.28 649.22,508.26 649.57,507.97 649.92,508.33 650.27,508.04 650.62,508.49 650.97,508.25 651.32,508.18 651.66,508.32 652.01,508.28 652.36,508.53 652.71,508.57 653.06,508.59 653.41,508.51 653.76,508.23 654.11,508.73 654.46,508.39 654.81,508.84 655.16,509.05 655.50,508.93 655.85,508.84 656.20,508.92 656.55,508.97 656.90,508.93 657.25,508.97 657.60,508.94 657.95,509.36 658.30,509.18 658.65,509.38 659.00,509.21 659.34,509.30 659.69,509.29 660.04,509.43 660.39,509.53 660.74,509.46 661.09,509.34 661.44,509.36 661.79,509.79 662.14,509.50 662.49,509.53 662.84,509.84 663.18,509.81 663.53,509.75 663.88,509.63 664.23,510.01 664.58,509.81 664.93,509.86 665.28,509.78 665.63,509.62 665.98,509.66 666.33,509.94 666.68,509.96 667.03,509.89 667.37,509.79 667.72,509.77 668.07,509.96 668.42,509.82 668.77,510.17 669.12,510.23 669.47,510.35 669.82,510.23 670.17,510.06 670.52,510.04 670.87,509.89 671.21,510.12 671.56,510.20 671.91,510.36 672.26,510.34 672.61,510.35 672.96,510.32 673.31,510.40 673.66,510.51 674.01,510.22 674.36,510.31 674.71,510.22 675.05,510.60 675.40,510.57 675.75,510.52 676.10,510.32 676.45,510.49 676.80,510.46 677.15,510.51 677.50,510.50 677.85,510.59 678.20,510.50 678.55,510.65 678.89,510.60 679.24,510.56 679.59,510.59 679.94,510.57 680.29,510.72 680.64,510.62 680.99,510.69 681.34,510.63" fill="none" stroke="#000" stroke-width="1.5" stroke-linejoin="round" />
<polyline points="431.38,509.94 431.72,510.21 432.07,509.83 432.42,510.02 432.77,509.89 433.12,509.46 433.47,509.47 433.82,509.44 434.17,509.28 434.52,509.10 434.87,509.35 435.22,509.04 435.56,509.04 435.91,508.75 436.26,508.77 436.61,508.41 436.96,508.42 437.31,508.41 437.66,508.13 438.01,507.86 438.36,507.54 438.71,507.67 439.06,507.54 439.40,507.20 439.75,506.88 440.10,507.03 440.45,507.21 440.80,506.39 441.15,506.36 441.50,506.15 441.85,505.15 442.20,505.62 442.55,505.12 442.90,505.53 443.24,504.75 443.59,504.31 443.94,504.23 444.29,504.08 444.64,503.54 444.99,503.43 445.34,502.66 445.69,502.76 446.04,502.82 446.39,502.94 446.74,502.15 447.09,501.65 447.43,501.67 447.78,501.26 448.13,501.18 448.48,500.57 448.83,499.68 449.18,499.46 449.53,499.03 449.88,498.68 450.23,498.23 450.58,497.34 450.93,496.28 451.27,496.52 451.62,495.41 451.97,495.99 452.32,495.49 452.67,494.16 453.02,494.90 453.37,494.51 453.72,493.61 454.07,493.97 454.42,493.58 454.77,491.35 455.11,492.08 455.46,491.21 455.81,490.66 456.16,490.41 456.51,488.87 456.86,488.37 457.21,487.64 457.56,487.09 457.91,486.90 458.26,485.44 458.61,485.08 458.95,485.51 459.30,484.46 459.65,484.12 460.00,481.95 460.35,482.04 460.70,481.53 461.05,481.27 461.40,480.16 461.75,480.56 462.10,479.16 462.45,478.52 462.80,477.81 463.14,477.62 463.49,476.02 463.84,476.50 464.19,475.27 464.54,474.30 464.89,473.47 465.24,473.09 465.59,472.73 465.94,471.92 466.29,470.69 466.64,470.33 466.98,468.92 467.33,469.08 467.68,467.21 468.03,464.66 468.38,466.78 468.73,464.90 469.08,462.97 469.43,462.99 469.78,461.55 470.13,463.21 470.48,461.12 470.82,458.39 471.17,459.47 471.52,457.75 471.87,459.04 472.22,455.40 472.57,453.44 472.92,454.72 473.27,453.45 473.62,452.50 473.97,449.93 474.32,451.56 474.66,451.92 475.01,447.45 475.36,449.65 475.71,446.99 476.06,448.62 476.41,446.22 476.76,444.67 477.11,445.11 477.46,443.60 477.81,441.51 478.16,441.98 478.51,439.76 478.85,437.46 479.20,440.53 479.55,437.17 479.90,435.96 480.25,436.08 480.60,433.05 480.95,432.35 481.30,432.38 481.65,431.43 482.00,431.18 482.35,431.46 482.69,428.70 483.04,428.89 483.39,428.10 483.74,425.21 484.09,425.82 484.44,423.52 484.79,424.98 485.14,423.34 485.49,421.90 485.84,419.34 486.19,420.19 486.53,418.20 486.88,419.09 487.23,417.17 487.58,415.40 487.93,416.66 488.28,415.50 488.63,412.95 488.98,414.27 489.33,411.53 489.68,410.62 490.03,410.29 490.37,408.28 490.72,407.79 491.07,407.28 491.42,408.61 491.77,407.70 492.12,404.54 492.47,406.14 492.82,403.10 493.17,402.81 493.52,402.63 493.87,401.00 494.22,402.32 494.56,399.26 494.91,396.48 495.26,399.05 495.61,395.89 495.96,395.22 496.31,391.81 496.66,395.41 497.01,394.36 497.36,393.54 497.71,393.01 498.06,393.23 498.40,390.03 498.75,390.64 499.10,387.51 499.45,387.30 499.80,388.55 500.15,386.87 500.50,383.67 500.85,385.36 501.20,383.85 501.55,382.22 501.90,383.32 502.24,381.40 502.59,379.01 502.94,378.99 503.29,382.50 503.64,377.03 503.99,378.91 504.34,378.82 504.69,378.22 505.04,374.82 505.39,375.52 505.74,375.58 506.08,375.94 506.43,373.17 506.78,371.79 507.13,374.44 507.48,374.01 507.83,372.32 508.18,370.28 508.53,371.25 508.88,370.24 509.23,370.80 509.58,367.10 509.93,368.64 510.27,367.70 510.62,365.74 510.97,367.26 511.32,366.49 511.67,365.32 512.02,366.08 512.37,362.82 512.72,364.46 513.07,364.76 513.42,364.10 513.77,364.89 514.11,360.94 514.46,360.04 514.81,362.35 515.16,362.29 515.51,364.16 515.86,361.78 516.21,359.09 516.56,361.35 516.91,358.42 517.26,357.07 517.61,362.05 517.95,359.26 518.30,359.56 518.65,359.01 519.00,360.69 519.35,357.99 519.70,359.19 520.05,355.38 520.40,354.54 520.75,358.75 521.10,358.59 521.45,356.84 521.79,356.16 522.14,355.86 522.49,354.30 522.84,357.64 523.19,356.06 523.54,355.64 523.89,355.27 524.24,356.18 524.59,355.17 524.94,355.42 525.29,352.24 525.64,354.79 525.98,356.90 526.33,352.94 526.68,353.47 527.03,355.02 527.38,355.05 527.73,354.45 528.08,350.81 528.43,354.15 528.78,351.41 529.13,351.96 529.48,354.13 529.82,352.77 530.17,354.53 530.52,356.28 530.87,354.50 531.22,354.44 531.57,351.88 531.92,352.32 532.27,351.70 532.62,352.60 532.97,351.77 533.32,352.54 533.66,353.34 534.01,352.17 534.36,351.60 534.71,351.79 535.06,354.81 535.41,354.30 535.76,355.97 536.11,356.14 536.46,354.08 536.81,355.84 537.16,352.65 537.50,358.13 537.85,357.19 538.20,355.13 538.55,353.82 538.90,356.47 539.25,353.11 539.60,355.06 539.95,357.70 540.30,356.87 540.65,356.21 541.00,358.73 541.35,355.84 541.69,358.19 542.04,357.22 542.39,356.95 542.74,359.29 543.09,357.29 543.44,362.13 543.79,358.53 544.14,362.73 544.49,358.36 544.84,361.34 545.19,358.84 545.53,358.96 545.88,361.64 546.23,362.79 546.58,360.11 546.93,364.29 547.28,361.57 547.63,363.39 547.98,364.15 548.33,364.86 548.68,361.56 549.03,367.22 549.37,365.99 549.72,364.87 550.07,364.37 550.42,363.76 550.77,364.69 551.12,368.04 551.47,367.12 551.82,366.35 552.17,367.71 552.52,371.34 552.87,368.91 553.21,368.99 553.56,372.37 553.91,371.50 554.26,371.34 554.61,370.83 554.96,369.90 555.31,370.96 555.66,372.48 556.01,373.37 556.36,374.72 556.71,375.51 557.06,375.53 557.40,376.04 557.75,374.73 558.10,373.56 558.45,376.49 558.80,376.38 559.15,377.36 559.50,378.44 559.85,377.56 560.20,378.30 560.55,380.32 560.90,381.18 561.24,380.61 561.59,382.83 561.94,382.35 562.29,381.75 562.64,383.84 562.99,387.05 563.34,383.95 563.69,387.15 564.04,388.02 564.39,388.76 564.74,386.04 565.08,390.48 565.43,388.53 565.78,388.60 566.13,389.22 566.48,390.97 566.83,390.79 567.18,391.07 567.53,393.69 567.88,391.50 568.23,391.66 568.58,394.80 568.92,395.27 569.27,396.41 569.62,394.04 569.97,397.59 570.32,397.38 570.67,399.73 571.02,396.25 571.37,398.85 571.72,398.80 572.07,397.65 572.42,399.44 572.77,402.52 573.11,401.01 573.46,401.29 573.81,404.02 574.16,404.80 574.51,405.41 574.86,403.69 575.21,405.28 575.56,407.32 575.91,405.74 576.26,406.25 576.61,408.91 576.95,410.48 577.30,407.61 577.65,406.89 578.00,408.48 578.35,409.67 578.70,411.41 579.05,412.99 579.40,412.65 579.75,412.57 580.10,414.27 580.45,413.50 580.79,415.27 581.14,415.15 581.49,418.92 581.84,418.20 582.19,416.79 582.54,417.21 582.89,418.52 583.24,417.67 583.59,419.41 583.94,420.02 584.29,422.59 584.63,421.63 584.98,421.81 585.33,421.78 585.68,422.59 586.03,424.52 586.38,424.96 586.73,427.16 587.08,425.70 587.43,428.28 587.78,427.95 588.13,428.25 588.48,426.54 588.82,427.98 589.17,430.92 589.52,432.26 589.87,431.50 590.22,432.73 590.57,432.00 590.92,432.64 591.27,432.90 591.62,435.33 591.97,435.21 592.32,435.16 592.66,435.64 593.01,437.20 593.36,437.52 593.71,436.84 594.06,440.20 594.41,439.19 594.76,439.49 595.11,441.64 595.46,441.72 595.81,441.10 596.16,442.33 596.50,441.20 596.85,442.22 597.20,441.15 597.55,445.29 597.90,442.60 598.25,445.83 598.60,444.82 598.95,445.22 599.30,446.58 599.65,447.59 600.00,448.49 600.34,450.20 600.69,449.31 601.04,450.37 601.39,449.42 601.74,451.26 602.09,451.23 602.44,451.15 602.79,452.04 603.14,452.59 603.49,453.36 603.84,454.08 604.19,453.71 604.53,454.01 604.88,455.94 605.23,454.12 605.58,455.65 605.93,458.20 606.28,455.18 606.63,457.09 606.98,458.87 607.33,457.20 607.68,460.95 608.03,457.68 608.37,461.49 608.72,462.07 609.07,461.96 609.42,461.41 609.77,462.40 610.12,461.76 610.47,463.74 610.82,462.50 611.17,463.71 611.52,465.27 611.87,463.89 612.21,465.00 612.56,465.91 612.91,465.07 613.26,467.65 613.61,467.39 613.96,466.26 614.31,467.94 614.66,467.76 615.01,468.29 615.36,469.33 615.71,469.11 616.05,470.90 616.40,469.96 616.75,471.75 617.10,471.33 617.45,472.46 617.80,471.76 618.15,472.19 618.50,472.09 618.85,473.85 619.20,474.52 619.55,475.66 619.90,475.57 620.24,475.16 620.59,475.19 620.94,476.03 621.29,476.09 621.64,477.59 621.99,477.57 622.34,476.62 622.69,477.10 623.04,478.98 623.39,478.56 623.74,478.53 624.08,479.92 624.43,479.13 624.78,479.56 625.13,479.79 625.48,479.07 625.83,481.41 626.18,480.30 626.53,481.09 626.88,481.31 627.23,482.65 627.58,482.44 627.92,482.82 628.27,482.00 628.62,483.40 628.97,482.79 629.32,484.30 629.67,484.65 630.02,484.71 630.37,486.27 630.72,485.68 631.07,486.02 631.42,486.03 631.76,486.12 632.11,487.15 632.46,487.52 632.81,486.30 633.16,488.06 633.51,488.01 633.86,488.57 634.21,488.54 634.56,487.78 634.91,488.10 635.26,490.18 635.61,489.50 635.95,488.78 636.30,490.09 636.65,489.93 637.00,489.33 637.35,489.39 637.70,490.00 638.05,491.33 638.40,491.40 638.75,491.53 639.10,492.08 639.45,492.50 639.79,491.24 640.14,492.47 640.49,492.42 640.84,492.44 641.19,493.05 641.54,493.51 641.89,493.66 642.24,493.25 642.59,493.99 642.94,495.46 643.29,494.14 643.63,494.03 643.98,495.26 644.33,495.63 644.68,495.77 645.03,495.18 645.38,496.45 645.73,495.76 646.08,495.79 646.43,496.25 646.78,496.69 647.13,497.29 647.47,497.43 647.82,497.31 648.17,497.95 648.52,497.74 648.87,498.30 649.22,497.41 649.57,497.52 649.92,498.78 650.27,497.97 650.62,498.64 650.97,498.90 651.32,498.90 651.66,499.08 652.01,500.06 652.36,498.66 652.71,500.16 653.06,500.76 653.41,500.11 653.76,500.25 654.11,500.72 654.46,501.33 654.81,500.23 655.16,500.91 655.50,500.94 655.85,501.39 656.20,501.37 656.55,501.72 656.90,501.43 657.25,501.76 657.60,501.61 657.95,501.75 658.30,502.09 658.65,502.23 659.00,501.96 659.34,503.14 659.69,502.62 660.04,502.28 660.39,503.33 660.74,502.77 661.09,503.36 661.44,503.29 661.79,503.50 662.14,503.59 662.49,503.44 662.84,503.78 663.18,504.54 663.53,503.23 663.88,504.12 664.23,504.36 664.58,503.96 664.93,503.96 665.28,505.16 665.63,504.51 665.98,505.36 666.33,505.01 666.68,504.96 667.03,505.19 667.37,505.34 667.72,505.60 668.07,505.46 668.42,505.46 668.77,505.56 669.12,506.02 669.47,505.94 669.82,505.48 670.17,505.68 670.52,506.05 670.87,505.86 671.21,506.01 671.56,505.93 671.91,506.21 672.26,506.49 672.61,506.73 672.96,506.53 673.31,507.14 673.66,506.66 674.01,507.28 674.36,507.11 674.71,507.04 675.05,506.85 675.40,506.47 675.75,507.08 676.10,507.24 676.45,507.75 676.80,506.97 677.15,507.88 677.50,507.39 677.85,507.70 678.20,507.04 678.55,507.68 678.89,507.63 679.24,507.94 679.59,507.85 679.94,507.62 680.29,508.17 680.64,508.17 680.99,508.20 681.34,508.35 681.69,508.43 682.04,508.22 682.39,507.98 682.74,508.03 683.08,508.69 683.43,508.59 683.78,508.51 684.13,508.45 684.48,508.59 684.83,508.64 685.18,508.61 685.53,508.58 685.88,509.17 686.23,508.87 686.58,508.74 686.92,508.65 687.27,508.81 687.62,509.14 687.97,509.19 688.32,509.04 688.67,509.13 689.02,509.10 689.37,508.99 689.72,509.48 690.07,509.35 690.42,509.66 690.76,509.21 691.11,509.36 691.46,509.58 691.81,509.41 692.16,509.25 692.51,509.36 692.86,509.58 693.21,509.65 693.56,509.61 693.91,509.83 694.26,509.86 694.60,509.77 694.95,509.76 695.30,509.74 695.65,509.90 696.00,509.99 696.35,509.88 696.70,509.97 697.05,509.87 697.40,509.74 697.75,509.83 698.10,510.12 698.45,510.10 698.79,510.29 699.14,510.09 699.49,510.23 699.84,510.32 700.19,510.29 700.54,510.09 700.89,510.17 701.24,510.24 701.59,510.11 701.94,510.33 702.29,510.43 702.63,510.25 702.98,510.58 703.33,510.31 703.68,510.34 704.03,510.36 704.38,510.32 704.73,510.48 705.08,510.45 705.43,510.67 705.78,510.56 706.13,510.57 706.47,510.49 706.82,510.37 707.17,510.54 707.52,510.47 707.87,510.69 708.22,510.60 708.57,510.80 708.92,510.71 709.27,510.74 709.62,510.69 709.97,510.70 710.31,510.76 710.66,510.80 711.01,510.64 711.36,510.78 711.71,510.94 712.06,510.75 712.41,510.75 712.76,510.72 713.11,510.65 713.46,510.93 713.81,510.83 714.16,510.86 714.50,511.02 714.85,511.03 715.20,510.78 715.55,510.97 715.90,510.94 716.25,510.93 716.60,510.95 716.95,510.92 717.30,511.07 717.65,510.99 718.00,510.98 718.34,511.06 718.69,511.04 719.04,511.01 719.39,511.01 719.74,511.14 720.09,511.04 720.44,511.00 720.79,510.95" fill="none" stroke="#ff0000" stroke-width="1.5" stroke-linejoin="round" />
<path d="M421.60,511.40L421.60,515.40M421.60,305.20L421.60,309.20M491.42,511.40L491.42,515.40M491.42,305.20L491.42,309.20M561.24,511.40L561.24,515.40M561.24,305.20L561.24,309.20M631.07,511.40L631.07,515.40M631.07,305.20L631.07,309.20M700.89,511.40L700.89,515.40M700.89,305.20L700.89,309.20M456.51,511.40L456.51,513.90M456.51,305.20L456.51,307.70M526.33,511.40L526.33,513.90M526.33,305.20L526.33,307.70M596.16,511.40L596.16,513.90M596.16,305.20L596.16,307.70M665.98,511.40L665.98,513.90M665.98,305.20L665.98,307.70M417.60,511.40L421.60,511.40M421.60,511.40L425.60,511.40M731.80,511.40L735.80,511.40M417.60,459.85L421.60,459.85M421.60,459.85L425.60,459.85M731.80,459.85L735.80,459.85M417.60,408.30L421.60,408.30M421.60,408.30L425.60,408.30M731.80,408.30L735.80,408.30M417.60,356.75L421.60,356.75M421.60,356.75L425.60,356.75M731.80,356.75L735.80,356.75M417.60,305.20L421.60,305.20M421.60,305.20L425.60,305.20M731.80,305.20L735.80,305.20M419.10,485.62L421.60,485.62M421.60,485.62L424.10,485.62M733.30,485.62L735.80,485.62M419.10,434.07L421.60,434.07M421.60,434.07L424.10,434.07M733.30,434.07L735.80,434.07M419.10,382.52L421.60,382.52M421.60,382.52L424.10,382.52M733.30,382.52L735.80,382.52M419.10,330.98L421.60,330.98M421.60,330.98L424.10,330.98M733.30,330.98L735.80,330.98" stroke="#000" stroke-width="1.25" fill="none"/>
<rect x="421.60" y="305.20" width="314.20" height="206.20" fill="none" stroke="#000" stroke-width="1.25"/>
<text x="108.70" y="243.30" font-family='"Liberation Serif", serif' font-size="15" text-anchor="middle" >30</text>
<text x="161.09" y="243.30" font-family='"Liberation Serif", serif' font-size="15" text-anchor="middle" >40</text>
<text x="213.49" y="243.30" font-family='"Liberation Serif", serif' font-size="15" text-anchor="middle" >50</text>
<text x="265.89" y="243.30" font-family='"Liberation Serif", serif' font-size="15" text-anchor="middle" >60</text>
<text x="318.28" y="243.30" font-family='"Liberation Serif", serif' font-size="15" text-anchor="middle" >70</text>
<text x="76.20" y="229.30" font-family='"Liberation Serif", serif' font-size="15" text-anchor="end" >0.00</text>
<text x="76.20" y="188.08" font-family='"Liberation Serif", serif' font-size="15" text-anchor="end" >0.02</text>
<text x="76.20" y="146.86" font-family='"Liberation Serif", serif' font-size="15" text-anchor="end" >0.04</text>
<text x="76.20" y="105.64" font-family='"Liberation Serif", serif' font-size="15" text-anchor="end" >0.06</text>
<text x="76.20" y="64.42" font-family='"Liberation Serif", serif' font-size="15" text-anchor="end" >0.08</text>
<text x="76.20" y="23.20" font-family='"Liberation Serif", serif' font-size="15" text-anchor="end" >0.10</text>
<text x="459.40" y="243.30" font-family='"Liberation Serif", serif' font-size="15" text-anchor="middle" >0.0</text>
<text x="514.76" y="243.30" font-family='"Liberation Serif", serif' font-size="15" text-anchor="middle" >0.2</text>
<text x="570.12" y="243.30" font-family='"Liberation Serif", serif' font-size="15" text-anchor="middle" >0.4</text>
<text x="625.48" y="243.30" font-family='"Liberation Serif", serif' font-size="15" text-anchor="middle" >0.6</text>
<text x="680.84" y="243.30" font-family='"Liberation Serif", serif' font-size="15" text-anchor="middle" >0.8</text>
<text x="736.20" y="243.30" font-family='"Liberation Serif", serif' font-size="15" text-anchor="middle" >1.0</text>
<text x="453.20" y="229.30" font-family='"Liberation Serif", serif' font-size="15" text-anchor="end" >0.00</text>
<text x="453.20" y="188.08" font-family='"Liberation Serif", serif' font-size="15" text-anchor="end" >0.02</text>
<text x="453.20" y="146.86" font-family='"Liberation Serif", serif' font-size="15" text-anchor="end" >0.04</text>
<text x="453.20" y="105.64" font-family='"Liberation Serif", serif' font-size="15" text-anchor="end" >0.06</text>
<text x="453.20" y="64.42" font-family='"Liberation Serif", serif' font-size="15" text-anchor="end" >0.08</text>
<text x="453.20" y="23.20" font-family='"Liberation Serif", serif' font-size="15" text-anchor="end" >0.10</text>
<text x="82.50" y="529.20" font-family='"Liberation Serif", serif' font-size="15" text-anchor="middle" >200</text>
<text x="421.60" y="529.20" font-family='"Liberation Serif", serif' font-size="15" text-anchor="middle" >200</text>
<text x="152.21" y="529.20" font-family='"Liberation Serif", serif' font-size="15" text-anchor="middle" >400</text>
<text x="491.42" y="529.20" font-family='"Liberation Serif", serif' font-size="15" text-anchor="middle" >400</text>
<text x="221.92" y="529.20" font-family='"Liberation Serif", serif' font-size="15" text-anchor="middle" >600</text>
<text x="561.24" y="529.20" font-family='"Liberation Serif", serif' font-size="15" text-anchor="middle" >600</text>
<text x="291.63" y="529.20" font-family='"Liberation Serif", serif' font-size="15" text-anchor="middle" >800</text>
<text x="631.07" y="529.20" font-family='"Liberation Serif", serif' font-size="15" text-anchor="middle" >800</text>
<text x="361.34" y="529.20" font-family='"Liberation Serif", serif' font-size="15" text-anchor="middle" >1000</text>
<text x="700.89" y="529.20" font-family='"Liberation Serif", serif' font-size="15" text-anchor="middle" >1000</text>
<text x="76.20" y="516.10" font-family='"Liberation Serif", serif' font-size="15" text-anchor="end" >0.000</text>
<text x="76.20" y="464.55" font-family='"Liberation Serif", serif' font-size="15" text-anchor="end" >0.001</text>
<text x="76.20" y="413.00" font-family='"Liberation Serif", serif' font-size="15" text-anchor="end" >0.002</text>
<text x="76.20" y="361.45" font-family='"Liberation Serif", serif' font-size="15" text-anchor="end" >0.003</text>
<text x="76.20" y="309.90" font-family='"Liberation Serif", serif' font-size="15" text-anchor="end" >0.004</text>
<text x="2.30" y="17.40" font-family='"Liberation Sans", sans-serif' font-size="20.5" text-anchor="start" font-weight="bold" >a</text>
<text x="389.60" y="17.30" font-family='"Liberation Sans", sans-serif' font-size="20.5" text-anchor="start" font-weight="bold" >b</text>
<text x="2.30" y="297.60" font-family='"Liberation Sans", sans-serif' font-size="20.5" text-anchor="start" font-weight="bold" >c</text>
<text x="402.90" y="297.90" font-family='"Liberation Sans", sans-serif' font-size="20.5" text-anchor="start" font-weight="bold" >d</text>
<text x="200.60" y="268.90" font-family='"Liberation Serif", serif' font-size="24" text-anchor="start" font-style="italic" >R</text>
<text x="215.40" y="275.30" font-family='"Liberation Serif", serif' font-size="14" text-anchor="start" >EE</text>
<text x="587.90" y="266.00" font-family='"Liberation Serif", serif' font-size="26.5" text-anchor="start" font-style="italic" >E</text>
<text x="214.20" y="559.00" font-family='"Liberation Serif", serif' font-size="25" text-anchor="start" font-style="italic" >R</text>
<text x="229.60" y="564.60" font-family='"Liberation Serif", serif' font-size="14" text-anchor="start" >g</text>
<text x="230.50" y="548.20" font-family='"Liberation Serif", serif' font-size="14" text-anchor="start" >2</text>
<text x="548.90" y="558.90" font-family='"Liberation Serif", serif' font-size="25" text-anchor="start" font-style="italic" >R</text>
<text x="564.30" y="564.50" font-family='"Liberation Serif", serif' font-size="14" text-anchor="start" >g</text>
<text x="565.20" y="548.10" font-family='"Liberation Serif", serif' font-size="14" text-anchor="start" >2</text>
<text transform="translate(22.60,153.40) rotate(-90)" font-family='"Liberation Serif", serif' font-size="25" font-style="italic">P</text>
<path d="M1.60,128.60A16.07,12.01 0 0 0 30.30,128.60L29.90,128.20A16.07,8.91 0 0 1 2.00,128.20Z" fill="#000"/>
<text transform="translate(22.60,126.20) rotate(-90)" font-family='"Liberation Serif", serif' font-size="25" font-style="italic">R</text>
<text transform="translate(27.60,110.60) rotate(-90)" font-family='"Liberation Serif", serif' font-size="14">EE</text>
<path d="M1.60,89.60A16.07,12.74 0 0 1 30.30,89.60L29.90,90.00A16.07,9.64 0 0 0 2.00,90.00Z" fill="#000"/>
<text transform="translate(409.00,141.30) rotate(-90)" font-family='"Liberation Serif", serif' font-size="25" font-style="italic">P</text>
<path d="M387.80,116.40A16.52,12.37 0 0 0 417.30,116.40L416.90,116.00A16.52,9.28 0 0 1 388.20,116.00Z" fill="#000"/>
<text transform="translate(409.00,113.00) rotate(-90)" font-family='"Liberation Serif", serif' font-size="25" font-style="italic">E</text>
<path d="M387.80,95.30A16.52,12.37 0 0 1 417.30,95.30L416.90,95.70A16.52,9.28 0 0 0 388.20,95.70Z" fill="#000"/>
<text transform="translate(24.90,432.80) rotate(-90)" font-family='"Liberation Serif", serif' font-size="25" font-style="italic">P</text>
<path d="M1.20,406.70A19.60,11.46 0 0 0 36.20,406.70L35.80,406.30A19.60,8.37 0 0 1 1.60,406.30Z" fill="#000"/>
<text transform="translate(24.90,404.60) rotate(-90)" font-family='"Liberation Serif", serif' font-size="25" font-style="italic">R</text>
<text transform="translate(30.60,390.00) rotate(-90)" font-family='"Liberation Serif", serif' font-size="14">g</text>
<text transform="translate(14.60,388.00) rotate(-90)" font-family='"Liberation Serif", serif' font-size="14">2</text>
<path d="M1.20,376.80A19.49,12.92 0 0 1 36.00,376.80L35.60,377.20A19.49,9.82 0 0 0 1.60,377.20Z" fill="#000"/>
</svg>
</body></html>
